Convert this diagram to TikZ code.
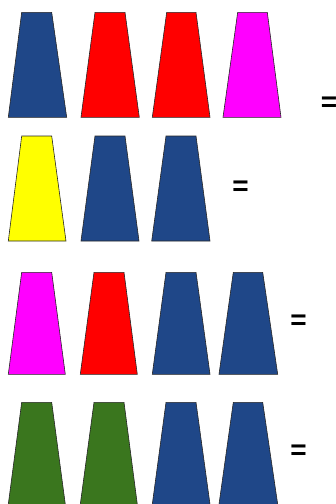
\documentclass[tikz,border=0pt]{standalone}
\usepackage{fontspec}
\setmainfont{Liberation Sans}
\definecolor{cblue}{RGB}{31,71,136}
\definecolor{cred}{RGB}{255,0,0}
\definecolor{cmag}{RGB}{255,0,255}
\definecolor{cyel}{RGB}{255,255,0}
\definecolor{cgreen}{RGB}{58,118,30}
\tikzset{cone/.style={draw=black!85, line width=0.6pt, line join=miter},
  eq/.style={inner sep=0pt, font=\fontsize{28}{28}\selectfont\bfseries}}
% #1 top-left x, #2 top-right x, #3 bottom-left x, #4 bottom-right x, #5 top y, #6 bottom y, #7 colour
\newcommand{\trapz}[7]{\filldraw[cone, fill=#7] (#1,#5) -- (#2,#5) -- (#4,#6) -- (#3,#6) -- cycle;}
\begin{document}
\begin{tikzpicture}[x=1pt,y=-1pt]
\useasboundingbox (0,0) rectangle (336,504);
\clip (0,0) rectangle (336,504);
% row 1
\trapz{21.7}{51.7}{8.3}{66.7}{12.3}{117.3}{cblue}
\trapz{95}{125}{81}{139.3}{12.3}{117.3}{cred}
\trapz{166.7}{196}{152.3}{210}{12.3}{117.3}{cred}
\trapz{237.7}{267.3}{223}{281}{12.3}{117.3}{cmag}
\node[eq] (e1) at (329,104) {=};
% row 2
\trapz{21.7}{51.7}{8.3}{66}{136}{241}{cyel}
\trapz{95}{125}{81}{139}{136}{241}{cblue}
\trapz{166}{196}{151.7}{210}{136}{241}{cblue}
\node[eq] (e2) at (240.5,188) {=};
% row 3
\trapz{21.7}{51.7}{8.3}{65.3}{272.3}{374.3}{cmag}
\trapz{94}{124}{80.3}{137.3}{272.3}{374.3}{cred}
\trapz{166}{196}{152.3}{210}{272.3}{374.3}{cblue}
\trapz{233.3}{262.7}{219}{277.7}{272.3}{374.3}{cblue}
\node[eq] (e3) at (298.5,322) {=};
% row 4
\trapz{21.7}{51.7}{8.3}{65.3}{402.3}{504.3}{cgreen}
\trapz{94}{124}{80.3}{137.3}{402.3}{504.3}{cgreen}
\trapz{166}{196}{152.3}{210}{402.3}{504.3}{cblue}
\trapz{233.3}{262.7}{219}{277.7}{402.3}{504.3}{cblue}
\node[eq] (e4) at (298.5,452) {=};
\end{tikzpicture}
\end{document}
